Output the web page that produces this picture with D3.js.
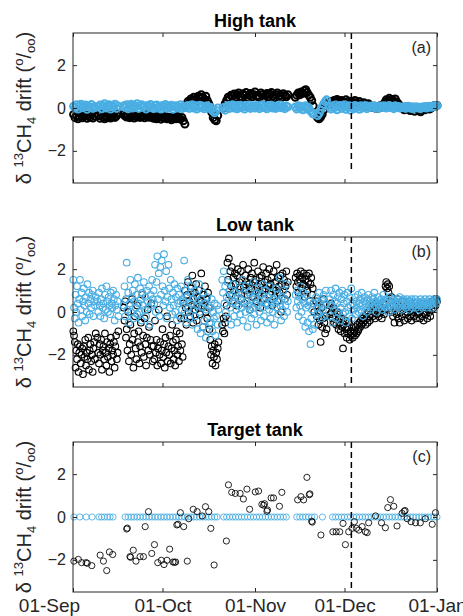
<!DOCTYPE html>
<html>
<head>
<meta charset="utf-8">
<script src="https://cdn.jsdelivr.net/npm/d3@7"></script>
<style>
body { margin: 0; background: #fff; }
svg { font-family: "Liberation Sans", Arial, sans-serif; }
</style>
</head>
<body>
<div id="chart"></div>
<script>
// days are counted from 01-Sep. segment = [first day, sampling step (days), values]
var highBlack = [
    [0.2, 0.5, [-0.3,-0.45,-0.36,-0.5,-0.4,-0.28,-0.46,-0.38,-0.33,-0.48,-0.35,-0.43,-0.3,-0.47,-0.37]],
    [8.6, 0.5, [-0.35,-0.48,-0.3,-0.42,-0.5,-0.38,-0.45,-0.33,-0.47,-0.4,-0.3,-0.44,-0.36,-0.28]],
    [17, 0.5, [-0.3,-0.38,-0.42,-0.35,-0.45,-0.4,-0.33,-0.47,-0.38,-0.42,-0.36,-0.44,-0.4,-0.35,-0.46,-0.3,-0.4,-0.43,-0.37,
        -0.42,-0.48,-0.4,-0.5,-0.45,-0.38,-0.52,-0.44,-0.47,-0.4,-0.5,-0.43,-0.48,-0.55,-0.42,-0.46,-0.5,-0.4,-0.47,-0.52,-0.44,-0.6,-0.75,
        0.1,0.3,0.25,0.42,0.35,0.5,0.4,0.3,0.55,0.45,0.62,0.5,0.4,0.55,0.35,0.2,0.05,
        -0.2,-0.45,-0.55,-0.6,-0.35]],
    [50.5, 0.5, [0.0,0.2,0.35,0.5,0.45,0.6,0.55,0.65,0.5,0.62,0.7,0.55,0.48,0.66,0.58,0.72,0.5,0.6,0.68,0.52,0.63,0.75,
        0.55,0.6,0.5,0.7,0.62,0.45,0.58,0.68,0.52,0.65,0.72,0.56,0.48,0.62,0.7,0.55,0.6,0.5,0.66,0.58,0.52,0.62]],
    [74.5, 0.5, [0.5,0.6,0.7,0.62,0.75,0.68,0.8,0.85,0.72,0.6,0.5,0.35,0.1]],
    [82, 0.5, [-0.45,-0.5,-0.42,-0.3,-0.1,0.1,0.2]],
    [86, 0.5, [0.2,0.3,0.25,0.35,0.28,0.4,0.3,0.22,0.35,0.3,0.25,0.38,0.28,0.32,0.2,
        0.3,0.22,0.35,0.25,0.18,0.3,0.2,0.12,0.25,0.15,0.08,0.2,0.1,0.05,
        0.02,0.08,-0.02,0.05,0.0,0.1,0.04,0.12,
        0.25,0.38,0.32,0.45,0.35,0.4,0.3,0.42,0.28,0.2,0.12,0.05,
        0.0,-0.08,0.05,-0.05,0.02,-0.12,-0.02,0.04,-0.15,-0.05,0.0,-0.1,-0.18,-0.06,0.02,-0.08,-0.02,0.05,-0.05,0.0,0.06,0.1,0.08,0.12]]
];
var highBlue = [
    [0.2, 0.5, [0.08,0.0,0.15,-0.05,0.1,0.18,0.02,0.06,0.14,-0.06,0.09,0.03,0.16,-0.02,0.07]],
    [8.6, 0.5, [0.05,0.14,-0.04,0.1,0.2,0.0,0.08,0.15,-0.05,0.12,0.04,0.18,-0.02,0.09]],
    [17, 0.5, [0.1,0.02,0.15,-0.04,0.08,0.18,0.0,0.12,0.05,0.2,-0.02,0.1,0.15,0.03,0.08,-0.05,0.12,0.06,0.16,
        0.05,-0.03,0.1,0.14,0.0,0.08,-0.05,0.12,0.04,0.16,-0.02,0.09,0.02,0.13,-0.06,0.07,0.11,0.0,0.05,0.15,-0.03,0.08,0.02,
        0.05,0.12,-0.02,0.08,0.15,0.0,0.1,-0.05,0.07,0.13,0.02,0.09,-0.04,0.06,0.1,-0.02,0.04,
        -0.05,-0.15,-0.22,-0.12,0.0]],
    [50.5, 0.5, [0.02,-0.1,0.05,0.12,-0.02,0.08,0.15,0.0,0.1,-0.04,0.06,0.13,0.02,0.09,-0.05,0.11,0.04,0.14,-0.02,0.07,0.1,0.0,
        0.12,0.05,-0.03,0.09,0.15,0.02,0.07,-0.04,0.11,0.05,0.13,0.0,0.08,-0.02,0.1,0.04,0.14,0.01,0.07,-0.03,0.09,0.05]],
    [74.5, 0.5, [0.05,-0.05,0.1,0.0,0.08,-0.08,0.04,0.1,-0.05,0.02,-0.12,-0.2,-0.28]],
    [82, 0.5, [-0.35,-0.25,-0.1,0.05,0.18,0.3,0.38]],
    [86, 0.5, [0.05,-0.05,0.1,0.0,0.14,-0.08,0.06,0.12,-0.02,0.08,0.15,-0.06,0.04,0.1,-0.1,
        0.06,-0.04,0.12,0.02,0.08,-0.06,0.1,0.0,0.05,0.12,-0.03,0.07,0.02,0.09,
        0.04,0.1,-0.02,0.06,0.0,0.08,0.03,0.1,
        0.05,0.0,0.08,0.12,0.02,0.06,-0.03,0.1,0.04,0.07,0.0,0.05,
        0.03,0.06,-0.02,0.04,0.08,0.0,0.05,-0.04,0.02,0.06,0.0,0.04,-0.03,0.05,0.02,0.07,0.0,0.04,0.08,0.03,0.06,0.1,0.08,0.1]]
];

var lowBlack = [
    [0.1, 0.25, [-0.9,-1.1,-1.4,-2.6,-1.8,-2.2,-1.5,-2.8,-1.9,-1.6,-2.4,-2.0,-1.7,-2.9,-1.6,-2.1,-1.3,-2.5,-1.9,-2.2,
        -1.2,-2.7,-1.8,-1.5,-2.3,-2.0,-2.8,-1.7,-1.4,-2.2,-1.0]],
    [8.2, 0.25, [-1.2,-1.9,-2.4,-1.5,-2.0,-1.3,-2.7,-1.8,-1.6,-2.2,-1.0,-1.9,-2.5,-1.4,-2.1,-1.7,-2.8,-1.5,-1.2,-2.3,
        -1.8,-2.0,-1.4,-2.6,-1.6,-1.1,-2.2,-1.9,-0.9]],
    [17, 0.25, [0.2,-0.4,0.5,-1.2,-0.8,-1.8,0.0,-2.3,-1.5,-0.6,-2.0,0.6,-1.3,-2.6,-1.0,-0.2,-1.7,-2.2,0.3,-1.4,
        -0.9,-2.4,-1.6,-0.5,-1.9,0.8,-1.1,-2.1,-0.3,-1.5,-2.5,-1.2,0.1,-1.8,-0.7,-2.0,-1.3,0.4,-1.6,-2.3,
        -1.6,-2.2,-0.4,-1.9,-1.3,-2.5,-1.7,0.1,-2.0,-1.4,-2.4,-1.8,-0.8,-2.1,-1.5,-2.6,-1.2,-1.9,-0.2,-2.3,
        -1.6,-2.0,-1.1,-2.4,-1.7,-0.6,-1.4,-2.2,-1.8,-2.5,-1.3,-0.9,-2.0,-1.6,-2.3,-1.0,-1.8,-0.3,-1.5,-2.1,
        0.4,-0.3,1.0,0.2,-0.6,0.8,1.4,0.0,0.5,-0.2,1.1,0.3,1.7,-0.5,0.6,0.9,0.1,1.3,-0.4,0.7,
        0.2,1.0,-0.1,0.5,1.8,0.3,-0.7,0.8,0.4,1.2,0.0,0.6,-0.3,0.9,0.2,-0.8,
        -1.3,-2.0,-1.6,-2.4,-1.8,-2.1,-1.5,-2.5,-1.9,-2.2,-1.7,-1.4]],
    [50, 0.25, [-0.6,-0.9,-0.3,-1.0,-0.5,-0.2,0.3,
        2.3,1.5,2.5,0.8,1.9,1.2,2.1,0.5,1.6,1.0,1.8,1.3,0.3,1.7,2.0,0.9,1.4,1.1,1.9,0.6,
        1.5,2.2,1.2,0.4,1.7,1.0,1.4,0.8,2.0,1.3,0.1,1.6,1.1,1.8,0.7,1.4,2.3,1.0,1.5,0.5,
        1.2,1.9,0.9,1.6,0.2,1.3,1.7,1.0,2.1,0.6,1.4,1.1,1.8,0.4,1.5,1.2,2.0,0.8,1.3,1.6,
        0.3,1.1,1.9,0.7,1.4,1.0,2.2,0.5,1.6,1.2,0.9,1.7,0.0,1.3,1.8,1.0,1.5,0.6,1.2,1.9,0.8,1.4]],
    [74.6, 0.25, [1.6,1.2,1.8,1.4,0.9,1.7,1.5,1.9,1.1,1.6,1.3,1.8,0.7,1.5,1.2,1.7,1.0,1.4,1.8,0.5,1.3,1.6,0.8,1.1,0.4,0.0]],
    [81.5, 0.25, [0.5,-0.2,0.3,-0.6,0.0,-0.4,-1.4,0.2,-0.7,-0.3,0.6,-0.5,-1.0,-0.2,-0.8]],
    [86, 0.25, [0.3,-0.1,0.4,0.0,-0.3,0.2,-0.5,0.1,-0.2,-0.6,0.0,-0.4,-0.8,-0.1,-0.5,-0.9,-0.3,-0.7,-1.7,-0.6,
        -1.0,-0.4,-0.8,-1.2,-0.7,-1.0,-0.5,-1.3,-0.9,-1.1,-0.7,-1.2,-1.0,
        -0.9,-1.1,-0.7,-1.0,-0.6,-0.9,-0.8,-0.5,-0.7,-0.4,-0.6,-0.3,-0.5,-0.2,-0.4,-0.6,-0.1,-0.3,-0.5,0.0,-0.2,-0.4,0.1,-0.1,
        0.2,-0.2,0.3,0.0,-0.3,0.4,0.1,-0.1,0.2,-0.2,0.3,0.0,0.1,-0.3,0.2,0.4,-0.1,0.1,
        1.2,1.4,1.1,1.3,0.9,1.2,0.5,0.2,0.7,0.0,
        -0.2,0.3,-0.5,0.1,0.4,-0.1,0.6,-0.3,0.2,-0.5,0.0,0.3,-0.2,0.5,0.1,-0.4,0.2,-0.1,0.4,0.0,
        -0.3,0.2,0.5,-0.2,0.1,-0.4,0.3,0.0,-0.2,0.4,0.1,-0.3,0.2,-0.1,0.3,0.0,-0.3,0.1,0.4,-0.2,
        0.2,-0.4,0.0,0.3,-0.1,0.2,-0.3,0.1,0.4,0.0,-0.2,0.3,0.1,0.5,0.2,0.4,0.6,0.3,0.6,0.5]]
];
var lowBlue = [
    [0.1, 0.25, [1.5,0.2,-0.3,0.8,0.0,1.2,0.4,-0.5,0.6,1.5,0.1,0.9,-0.2,0.5,1.1,0.3,-0.4,0.7,0.0,1.3,
        0.4,0.9,-0.1,0.6,0.2,0.8,1.0,-0.2,0.5,0.3,0.7]],
    [8.2, 0.25, [0.5,0.0,0.9,0.3,-0.2,0.6,1.1,0.2,0.4,-0.3,0.8,0.1,1.2,0.5,0.0,0.7,0.3,-0.1,0.9,0.4,
        0.2,1.0,0.6,-0.4,0.3,0.8,0.1,0.5,-0.2]],
    [17, 0.25, [0.3,1.2,-0.2,0.6,2.3,0.1,0.9,-0.5,0.4,1.5,0.0,0.7,1.0,-0.3,0.5,1.3,0.2,0.8,-0.1,1.6,
        0.4,0.0,1.1,0.6,-0.4,0.9,0.3,1.4,0.1,0.7,-0.2,1.0,0.5,0.2,1.2,-0.6,0.8,0.3,1.5,0.6,
        1.0,0.4,2.2,0.0,1.4,2.6,0.6,1.8,-0.2,2.1,0.8,2.4,1.2,0.3,2.7,1.0,0.5,1.9,-0.3,0.7,
        2.2,1.1,0.2,1.5,0.6,-0.1,0.9,0.3,1.3,0.0,0.7,-0.4,1.1,0.4,0.8,-0.2,0.5,1.2,0.1,0.6,
        0.5,2.4,0.0,1.0,-0.5,0.7,1.5,0.2,-0.3,0.9,0.4,1.2,-0.6,0.6,0.1,1.0,-0.2,0.8,0.3,-0.8,
        0.5,1.3,0.0,-1.0,0.6,0.2,-0.7,0.9,-0.4,0.4,-1.2,0.1,0.7,-0.9,0.3,-0.5,
        0.2,-0.5,0.6,-0.9,0.0,-0.3,0.4,-1.1,-0.2,0.3,-0.6,0.1]],
    [50, 0.25, [1.5,0.9,1.9,0.4,1.2,0.0,0.7,1.4,-0.3,0.6,1.0,0.2,-0.6,0.8,0.4,1.3,-0.2,0.5,0.9,0.1,
        -0.5,0.7,0.3,1.1,-0.1,0.6,0.2,1.5,-0.4,0.4,0.8,0.0,1.2,0.5,-0.7,0.3,0.9,0.1,1.0,-0.3,
        0.6,0.2,1.4,-0.1,0.7,0.4,-0.6,0.9,0.3,1.1,0.0,0.5,-0.4,0.8,0.2,1.3,-0.2,0.6,0.4,1.0,
        -0.5,0.3,0.7,0.1,1.2,-0.3,0.5,0.9,0.0,0.6,-0.6,0.4,1.1,0.2,0.8,-0.1,0.5,1.6,0.3,-0.4,
        0.7,0.1,1.0,-0.2,0.6,0.3,1.3,0.0,0.5]],
    [74.6, 0.25, [0.8,0.2,1.0,0.5,-0.2,0.7,0.3,1.2,0.0,0.6,-0.4,0.9,0.4,-0.7,0.2,0.8,-0.5,0.3,-0.9,0.5,
        -1.5,-0.3,0.1,-0.8,0.4,-0.6]],
    [81.5, 0.25, [0.7,0.2,-0.1,0.5,0.9,0.0,0.4,-0.3,0.6,0.1,0.8,-0.2,0.3,1.0,0.4]],
    [86, 0.25, [0.6,-0.2,1.0,0.3,-0.5,0.8,0.1,0.5,1.1,-0.3,0.4,0.7,0.0,0.9,-0.4,0.2,0.6,1.0,-0.1,0.4,
        0.8,0.0,-0.5,0.5,0.9,0.2,-0.2,0.7,0.3,1.1,-0.3,0.4,0.1,
        0.3,0.7,-0.1,0.5,0.2,0.8,0.0,0.4,0.6,0.1,0.9,0.3,-0.2,0.5,0.7,0.2,0.4,0.0,0.6,0.8,
        0.3,0.5,0.1,0.4,0.7,0.2,0.6,0.9,0.3,0.5,0.0,0.4,0.7,0.2,0.5,0.3,0.6,0.1,0.4,0.8,
        0.3,0.5,0.2,0.6,0.4,0.0,0.5,0.3,0.7,0.4,0.2,0.5,0.3,0.6,0.1,0.4,0.5,0.3,0.6,0.2,
        0.4,0.7,0.3,0.5,0.1,0.4,0.6,0.3,0.5,0.2,0.4,0.6,0.3,0.5,0.1,0.4,0.3,0.6,0.2,0.5,
        0.4,0.3,0.6,0.2,0.4,0.5,0.3,0.1,0.4,0.6,0.3,0.5,0.2,0.4,0.3,0.6,0.4,0.2,0.5,0.3,
        0.4,0.6,0.3,0.5,0.4,0.2,0.5,0.4,0.6,0.5,0.4,0.6]]
];

// target tank: blue sits on zero, black are [day, drift]
var targetBlueDays = [0.3,2.3,4.4,6.4,8.7,9.6,10.5,11.5,12.4,13.4,
    17.5,18.5,19.5,20.5,21.5,22.5,23.5,24.5,25.5,26.5,27.5,28.5,29.5,30.5,31.5,32.5,33.5,34.5,35.5,36.5,
    37.5,38.5,39.5,40.5,41.5,42.5,43.5,44.5,45.5,46.5,47.5,48.3,
    50.5,51.5,52.5,53.5,54.5,55.5,56.5,57.5,58.5,59.5,60.5,61.5,62.5,63.5,64.5,65.5,66.5,67.5,68.5,69.5,70.5,71.5,
    75,76,77,78,79,80,81,83.6,
    87,88,89,90,91,92,93,94,95,96,97,98,99,100,101,102,103,104,105,106,107,108,109,110,
    111,112,113,114,115,116,117,118,119,120,121,122];
var targetBlack = [[0.3,-2.06],[1.8,-1.98],[2.9,-2.13],[4.4,-2.13],[4.8,-2.16],[6.3,-2.27],[9.1,-1.78],[10.2,-2.06],
    [11.3,-2.5],[12.2,-1.63],[13.3,-1.75],[18.0,-0.56],[18.2,-0.52],[19.1,-1.85],[19.3,-1.88],[20.2,-1.55],[21.1,-2.06],
    [22.5,-1.85],[23.6,-1.85],[24.2,-0.45],[25.3,0.25],[26.4,-1.7],[27.3,-1.29],[28.4,-2.13],[29.6,-2.02],[30.5,-2.22],
    [31.5,-2.02],[32.4,-1.5],[33.5,-2.1],[34.0,-2.12],[34.4,-2.1],[34.8,-0.37],[35.2,-0.34],[36.0,0.2],[37.1,-0.45],
    [38.3,-2.06],[38.8,-0.08],[40.3,0.36],[41.6,0.25],[43.3,0.05],[44.4,0.48],[45.5,0.25],[46.2,-0.53],[47.3,-2.24],
    [51.4,-1.12],[52.1,1.5],[53.2,1.15],[54.4,1.1],[56.0,1.1],[57.1,0.84],[58.3,1.3],[59.2,0.36],[61.1,1.17],[62.2,1.21],
    [63.3,0.59],[63.9,0.55],[64.2,0.62],[65.0,0.27],[65.2,0.33],[66.4,0.89],[67.2,0.89],[69.2,0.5],[70.0,1.15],
    [75.3,0.8],[76.4,0.95],[77.3,0.8],[78.4,1.85],[79.2,1.04],[79.4,1.08],[80.0,-0.2],[80.2,-0.24],[83.1,-0.84],
    [87.1,-0.69],[88.2,-0.69],[89.4,-0.69],[90.5,-0.3],[91.3,-1.29],[92.4,-0.69],[93.5,-0.53],[94.3,-0.22],[95.0,-0.53],
    [95.8,-0.61],[96.9,-0.45],[98.0,-0.69],[98.6,-0.73],[99.1,-0.27],[101.4,0.05],[103.4,-0.27],[104.7,-0.5],[105.5,0.44],
    [106.4,0.81],[107.5,0.5],[108.6,-0.42],[110.3,0.17],[111.0,0.27],[111.3,0.3],[112.0,-0.08],[113.3,-0.22],
    [114.8,-0.27],[116.4,-0.27],[118.1,-0.08],[120.4,-0.34],[121.5,0.2]];

var dashDay = 93.3;
var yTicks = [-2, 0, 2];
var titles = ["High tank", "Low tank", "Target tank"];
var tags = ["(a)", "(b)", "(c)"];

var width = 463, height = 616;
var left = 73, right = 437, ph = 150;
var tops = [33, 237, 442];
var blue = "#4aaee3";
var axisColor = "#262626";
// marker radius / stroke per panel
var markR = [3.5, 3.3, 3.1];
var markW = [2.0, 1.1, 0.85];

var t0 = Date.UTC(2015, 8, 1);
function toDate(day) { return new Date(t0 + day * 864e5); }

function segPoints(segs) {
    var pts = [];
    segs.forEach(function(s) {
        s[2].forEach(function(v, i) { pts.push([s[0] + i * s[1], v]); });
    });
    return pts;
}

var panels = [
    [[segPoints(highBlack), "black"], [segPoints(highBlue), blue]],
    [[segPoints(lowBlack), "black"], [segPoints(lowBlue), blue]],
    [[targetBlueDays.map(function(d) { return [d, 0]; }), blue], [targetBlack, "black"]]
];

var svg = d3.select('#chart')
    .append('svg')
    .attr('width', width)
    .attr('height', height);

var x = d3.scaleUtc()
    .domain([toDate(0), toDate(122)])
    .range([left, right]);

panels.forEach(function(series, k) {
    var top = tops[k];
    var y = d3.scaleLinear().domain([-3.5, 3.5]).range([top + ph, top]);
    var g = svg.append('g');

    series.forEach(function(s) {
        g.append('g').selectAll('circle')
            .data(s[0])
            .enter()
            .append('circle')
            .attr('cx', d => x(toDate(d[0])))
            .attr('cy', d => y(d[1]))
            .attr('r', markR[k])
            .attr('fill', 'none')
            .attr('stroke', s[1])
            .attr('stroke-width', markW[k]);
    });

    // dashed line
    g.append('line')
        .attr('x1', x(toDate(dashDay)))
        .attr('x2', x(toDate(dashDay)))
        .attr('y1', y(3.5))
        .attr('y2', y(k == 0 ? -3 : -3.5))
        .attr('stroke', 'black')
        .attr('stroke-width', 1.5)
        .attr('stroke-dasharray', '6,4');

    // box + inward ticks on all sides
    var months = d3.utcMonth.every(1);
    var xb = d3.axisBottom(x).ticks(months).tickSize(-4).tickPadding(7)
        .tickFormat(k == 2 ? d3.utcFormat("%d-%b") : "");
    var xt = d3.axisTop(x).ticks(months).tickSize(-4).tickFormat("");
    var yl = d3.axisLeft(y).tickValues(yTicks).tickSize(-4).tickPadding(7).tickFormat(d3.format("d"));
    var yr = d3.axisRight(y).tickValues(yTicks).tickSize(-4).tickFormat("");

    var axes = [
        [xb, "translate(0," + (top + ph) + ")", 19],
        [xt, "translate(0," + top + ")", 0],
        [yl, "translate(" + left + ",0)", 16],
        [yr, "translate(" + right + ",0)", 0]
    ];
    axes.forEach(function(a, j) {
        var ag = g.append('g').attr('transform', a[1]).call(a[0]);
        ag.select('.domain').remove();
        ag.selectAll('line').attr('stroke', axisColor);
        ag.selectAll('text').attr('fill', axisColor)
            .style('font-size', a[2] + 'px')
            .style('font-family', '"Liberation Sans", Arial, sans-serif');
        // first date label sits left of its tick, as in the original figure
        if (j == 0 && k == 2) {
            ag.select('.tick text').attr('x', -24);
        }
    });

    g.append('rect')
        .attr('x', left)
        .attr('y', top)
        .attr('width', right - left)
        .attr('height', ph)
        .attr('fill', 'none')
        .attr('stroke', axisColor)
        .attr('stroke-width', 1);

    // title
    g.append('text')
        .attr('x', (left + right) / 2)
        .attr('y', top - 6)
        .attr('text-anchor', 'middle')
        .style('font-size', '18px')
        .attr('font-weight', 700)
        .text(titles[k]);

    g.append('text')
        .attr('x', right - 6)
        .attr('y', top + 20)
        .attr('text-anchor', 'end')
        .style('font-size', '16px')
        .attr('fill', axisColor)
        .text(tags[k]);

    // y label
    var lab = g.append('text')
        .attr('transform', 'translate(31,' + (top + ph / 2) + ') rotate(-90)')
        .attr('text-anchor', 'middle')
        .attr('fill', axisColor)
        .style('font-size', '20px');
    lab.append('tspan').text('\u03b4 ');
    lab.append('tspan').attr('dy', -8).style('font-size', '13px').text('13');
    lab.append('tspan').attr('dy', 8).text('CH');
    lab.append('tspan').attr('dy', 5).style('font-size', '13px').text('4');
    lab.append('tspan').attr('dy', -5).text(' drift (');
    lab.append('tspan').attr('dy', -8).style('font-size', '13px').text('o');
    lab.append('tspan').attr('dy', 8).text('/');
    lab.append('tspan').attr('dy', 4).style('font-size', '13px').text('oo');
    lab.append('tspan').attr('dy', -4).text(')');
});
</script>
</body>
</html>
